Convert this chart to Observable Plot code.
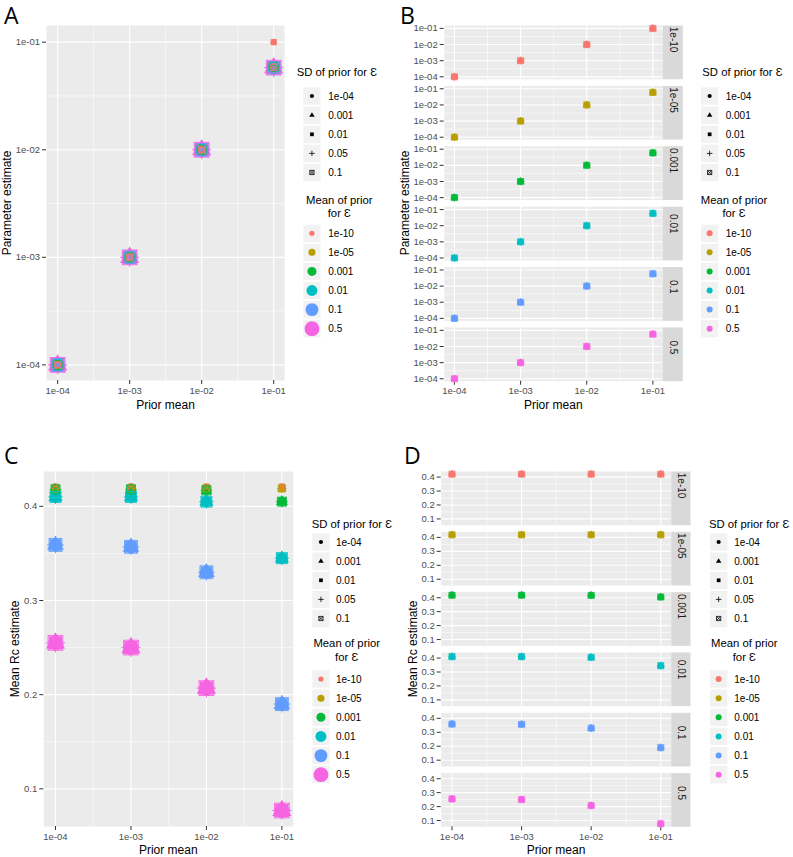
<!DOCTYPE html>
<html><head><meta charset="utf-8">
<script src="https://cdn.jsdelivr.net/npm/d3@7"></script>
<script src="https://cdn.jsdelivr.net/npm/@observablehq/plot@0.6"></script>
<style>
body{margin:0;background:#fff;}
#root{position:relative;width:793px;height:857px;overflow:hidden;background:#fff;}
.wrap{position:absolute;}
</style></head>
<body><div id="root"></div>
<script>
// ---------- data ----------
const priorMeans = [1e-4, 1e-3, 1e-2, 1e-1];
const priorMeanLabels = ["1e-04", "1e-03", "1e-02", "1e-01"];
const sdLevels = ["1e-04", "0.001", "0.01", "0.05", "0.1"];
const meanLevels = ["1e-10", "1e-05", "0.001", "0.01", "0.1", "0.5"];
const meanColors = ["#F8766D", "#B79F00", "#00BA38", "#00BFC4", "#619CFF", "#F564E3"];

// Parameter estimate (panels A, B), per mean-of-prior level, at each prior mean
const param_1e10 = [1e-4, 1e-3, 1e-2, 0.1];
const param_1e05 = [1e-4, 1e-3, 1e-2, 0.060];
const param_0001 = [1e-4, 1e-3, 1e-2, 0.059];
const param_001  = [1e-4, 1e-3, 1e-2, 0.058];
const param_01   = [1e-4, 1e-3, 1e-2, 0.058];
const param_05   = [1e-4, 1e-3, 1e-2, 0.058];

// Mean Rc estimate (panels C, D)
const rc_1e10 = [0.421, 0.421, 0.421, 0.421];
const rc_1e05 = [0.419, 0.419, 0.419, 0.419];
const rc_0001 = [0.418, 0.418, 0.417, 0.405];
const rc_001  = [0.410, 0.410, 0.405, 0.345];
const rc_01   = [0.359, 0.357, 0.330, 0.190];
const rc_05   = [0.255, 0.250, 0.207, 0.077];

const rcTicks = [0.1, 0.2, 0.3, 0.4];
const rcTickLabels = ["0.1", "0.2", "0.3", "0.4"];

const paramEst = [param_1e10, param_1e05, param_0001, param_001, param_01, param_05];
const rcEst = [rc_1e10, rc_1e05, rc_0001, rc_001, rc_01, rc_05];

const rows = [];
sdLevels.forEach(sd => meanLevels.forEach((m, i) => priorMeans.forEach((pm, j) =>
  rows.push({sd, mean: m, level: i + 1, prior: pm, param: paramEst[i][j], rc: rcEst[i][j]}))));

// ---------- symbols (R-like shapes 16,17,15,3,7) ----------
const sym = {
  circle: {draw(c, s) { const r = Math.sqrt(s / Math.PI); c.moveTo(r, 0); c.arc(0, 0, r, 0, 2 * Math.PI); }},
  triangle: {draw(c, s) { const r = Math.sqrt(s / Math.PI); c.moveTo(0, -1.45 * r); c.lineTo(1.3 * r, 0.75 * r); c.lineTo(-1.3 * r, 0.75 * r); c.closePath(); }},
  square: {draw(c, s) { const h = Math.sqrt(s) / 2; c.moveTo(-h, -h); c.lineTo(h, -h); c.lineTo(h, h); c.lineTo(-h, h); c.closePath(); }},
  plus: {draw(c, s) { const a = 1.3 * Math.sqrt(s / Math.PI); c.moveTo(-a, 0); c.lineTo(a, 0); c.moveTo(0, -a); c.lineTo(0, a); }},
  boxx: {draw(c, s) { const r = Math.sqrt(s / Math.PI); c.moveTo(-r, -r); c.lineTo(r, -r); c.lineTo(r, r); c.lineTo(-r, r); c.closePath(); c.moveTo(-r, -r); c.lineTo(r, r); c.moveTo(r, -r); c.lineTo(-r, r); }}
};
const sdShapes = [sym.circle, sym.triangle, sym.square, sym.plus, sym.boxx];
const sdFilled = [true, true, true, false, false];

const FONT = '"Liberation Sans", Arial, Helvetica, sans-serif';
const fmtLog = d => priorMeanLabels[priorMeans.indexOf(d)];
const fmtRc = d => rcTickLabels[rcTicks.indexOf(d)];
const minorLog = d3.pairs(priorMeans, (a, b) => Math.sqrt(a * b));
const minorRc = d3.pairs(rcTicks, (a, b) => (a + b) / 2);
const rRange = [2.6, 7.4];

const root = document.getElementById("root");

function panel(o) {
  const plotW = o.width - o.ml - o.mr;
  const dots = sdLevels.map((sd, k) => Plot.dot(rows.filter(d => d.sd === sd), {
    x: "prior", y: o.yField, fy: o.facet ? "mean" : undefined,
    r: o.sized ? "level" : 3,
    symbol: sdShapes[k],
    fill: sdFilled[k] ? "mean" : "none",
    stroke: sdFilled[k] ? "none" : "mean",
    strokeWidth: o.sized ? 0.9 : 0.8,
    sort: null
  }));
  const gridStyle = {stroke: "#fff", strokeOpacity: 1};
  const marks = [
    Plot.frame({fill: "#ebebeb", stroke: "none"}),
    Plot.gridX({ticks: minorLog, ...gridStyle, strokeWidth: 0.55}),
    Plot.gridY({ticks: o.yMinor, ...gridStyle, strokeWidth: 0.55}),
    Plot.gridX({ticks: priorMeans, ...gridStyle, strokeWidth: 1.1}),
    Plot.gridY({ticks: o.yTicks, ...gridStyle, strokeWidth: 1.1}),
    Plot.axisX({ticks: priorMeans, tickFormat: fmtLog, tickSize: 4, tickPadding: 2.5, label: null, stroke: "#333", fill: "#4d4d4d", fontSize: 9.5}),
    Plot.axisY({ticks: o.yTicks, tickFormat: o.yFormat, tickSize: 4, tickPadding: 2.5, label: null, stroke: "#333", fill: "#4d4d4d", fontSize: 9.5}),
  ];
  if (o.facet) {
    marks.push(Plot.frame({fill: "#d9d9d9", stroke: "none", insetLeft: plotW, insetRight: -o.strip}));
    marks.push(Plot.text(meanLevels, {fy: d => d, text: d => d, frameAnchor: "right", dx: o.strip / 2, rotate: 90, fill: "#1a1a1a", fontSize: 10}));
  }
  marks.push(...dots);
  const chart = Plot.plot({
    width: o.width, height: o.height,
    marginLeft: o.ml, marginRight: o.mr, marginTop: o.mt, marginBottom: o.mb,
    x: {type: "log", domain: [10 ** -4.155, 10 ** -0.85]},
    y: {type: o.yType, domain: o.yDomain},
    fy: o.facet ? {domain: meanLevels, axis: null, paddingInner: 0.11, paddingOuter: 0, round: false} : undefined,
    color: {domain: meanLevels, range: meanColors},
    r: {type: "linear", domain: [1, 6], range: rRange},
    style: {fontFamily: FONT, fontSize: "9.5px", background: "transparent", overflow: "visible", color: "#4d4d4d"},
    marks
  });
  const w = document.createElement("div");
  w.className = "wrap";
  w.style.left = o.left + "px"; w.style.top = o.top + "px";
  w.appendChild(chart);
  root.appendChild(w);
}

panel({left: 0, top: 0, width: 292, height: 420, ml: 46, mr: 8, mt: 25, mb: 40,
  yField: "param", yType: "log", yDomain: [10 ** -4.145, 10 ** -0.845], yTicks: priorMeans, yFormat: fmtLog, yMinor: minorLog, sized: true});
panel({left: 400, top: 0, width: 285, height: 420, ml: 43.7, mr: 22.7, mt: 25, mb: 39.3, strip: 20,
  yField: "param", yType: "log", yDomain: [10 ** -4.15, 10 ** -0.82], yTicks: priorMeans, yFormat: fmtLog, yMinor: minorLog, facet: true});
panel({left: 0, top: 420, width: 300, height: 437, ml: 43.3, mr: 7.3, mt: 51, mb: 31,
  yField: "rc", yType: "linear", yDomain: [0.06, 0.437], yTicks: rcTicks, yFormat: fmtRc, yMinor: minorRc, sized: true});
panel({left: 400, top: 420, width: 293, height: 437, ml: 40.7, mr: 22.3, mt: 51, mb: 30.7, strip: 19.3,
  yField: "rc", yType: "linear", yDomain: [0.055, 0.44], yTicks: rcTicks, yFormat: fmtRc, yMinor: minorRc, facet: true});

// ---------- overlay: letters, axis titles, legends ----------
const ov = d3.select(root).append("svg")
  .attr("width", 793).attr("height", 857)
  .style("position", "absolute").style("left", 0).style("top", 0)
  .style("font-family", FONT);

[["A", 4, 24], ["B", 400, 24], ["C", 4, 463.5], ["D", 404, 463.5]].forEach(([t, x, y]) =>
  ov.append("text").attr("x", x).attr("y", y).attr("font-family", '"Open Sans","Noto Sans",sans-serif')
    .attr("font-size", 23).attr("fill", "#000").text(t));

function xTitle(t, x, y) {
  ov.append("text").attr("x", x).attr("y", y).attr("text-anchor", "middle").attr("dominant-baseline", "central")
    .attr("font-size", 12).attr("fill", "#000").text(t);
}
function yTitle(t, x, y) {
  ov.append("text").attr("transform", `translate(${x},${y}) rotate(-90)`).attr("text-anchor", "middle")
    .attr("dominant-baseline", "central").attr("font-size", 12).attr("fill", "#000").text(t);
}
xTitle("Prior mean", 165.5, 404.5); yTitle("Parameter estimate", 7, 203);
xTitle("Prior mean", 553.3, 404.5); yTitle("Parameter estimate", 404.5, 203);
xTitle("Prior mean", 168.3, 849.5); yTitle("Mean Rc estimate", 15, 649);
xTitle("Prior mean", 556, 849.5); yTitle("Mean Rc estimate", 412.7, 649);

const rScale = d3.scaleLinear([1, 6], rRange);
const LT = 11.3; // legend title font size
function legend(L) {
  const K = 17.3;
  ov.append("text").attr("x", L.titleX).attr("y", L.sdTitleY).attr("dominant-baseline", "central")
    .attr("font-size", LT).attr("fill", "#000").text("SD of prior for Ɛ");
  sdLevels.forEach((s, k) => {
    const y = L.sdRows[k];
    ov.append("rect").attr("x", L.keyX).attr("y", y - K / 2).attr("width", K).attr("height", K).attr("fill", "#f2f2f2");
    ov.append("path").attr("transform", `translate(${L.keyX + K / 2},${y})`)
      .attr("d", d3.symbol(sdShapes[k], Math.PI * 2.1 * 2.1)())
      .attr("fill", sdFilled[k] ? "#000" : "none").attr("stroke", sdFilled[k] ? "none" : "#000").attr("stroke-width", 0.8);
    ov.append("text").attr("x", L.labelX).attr("y", y).attr("dominant-baseline", "central")
      .attr("font-size", 10).attr("fill", "#000").text(s);
  });
  ["Mean of prior", "for Ɛ"].forEach((t, i) =>
    ov.append("text").attr("x", L.meanTitleCX).attr("y", L.meanTitleY[i]).attr("text-anchor", "middle")
      .attr("dominant-baseline", "central").attr("font-size", LT).attr("fill", "#000").text(t));
  meanLevels.forEach((m, i) => {
    const y = L.meanRows[i];
    ov.append("rect").attr("x", L.keyX).attr("y", y - K / 2).attr("width", K).attr("height", K).attr("fill", "#f2f2f2");
    ov.append("circle").attr("cx", L.keyX + K / 2).attr("cy", y).attr("r", L.sized ? rScale(i + 1) : 3).attr("fill", meanColors[i]);
    ov.append("text").attr("x", L.labelX).attr("y", y).attr("dominant-baseline", "central")
      .attr("font-size", 10).attr("fill", "#000").text(m);
  });
}
const rowsTop = {sd: [96, 115.2, 134.3, 153.4, 172.5], titleY: 72.3, meanTitleY: [200, 213.3], mean: [233.3, 252.3, 271.4, 290.5, 309.6, 328.7]};
const rowsBot = {sd: [542, 561.2, 580.3, 599.4, 618.5], titleY: 524.3, meanTitleY: [643.3, 657], mean: [679, 698.2, 717.3, 736.4, 755.6, 774.7]};
legend({titleX: 296.7, keyX: 303.3, labelX: 328.3, meanTitleCX: 339.3, sdTitleY: rowsTop.titleY, sdRows: rowsTop.sd, meanTitleY: rowsTop.meanTitleY, meanRows: rowsTop.mean, sized: true});
legend({titleX: 702.3, keyX: 701, labelX: 725.7, meanTitleCX: 734, sdTitleY: rowsTop.titleY, sdRows: rowsTop.sd, meanTitleY: rowsTop.meanTitleY, meanRows: rowsTop.mean, sized: false});
legend({titleX: 311.7, keyX: 312.3, labelX: 336, meanTitleCX: 346.7, sdTitleY: rowsBot.titleY, sdRows: rowsBot.sd, meanTitleY: rowsBot.meanTitleY, meanRows: rowsBot.mean, sized: true});
legend({titleX: 709, keyX: 710, labelX: 734.3, meanTitleCX: 744.3, sdTitleY: rowsBot.titleY, sdRows: rowsBot.sd, meanTitleY: rowsBot.meanTitleY, meanRows: rowsBot.mean, sized: false});
</script></body></html>
